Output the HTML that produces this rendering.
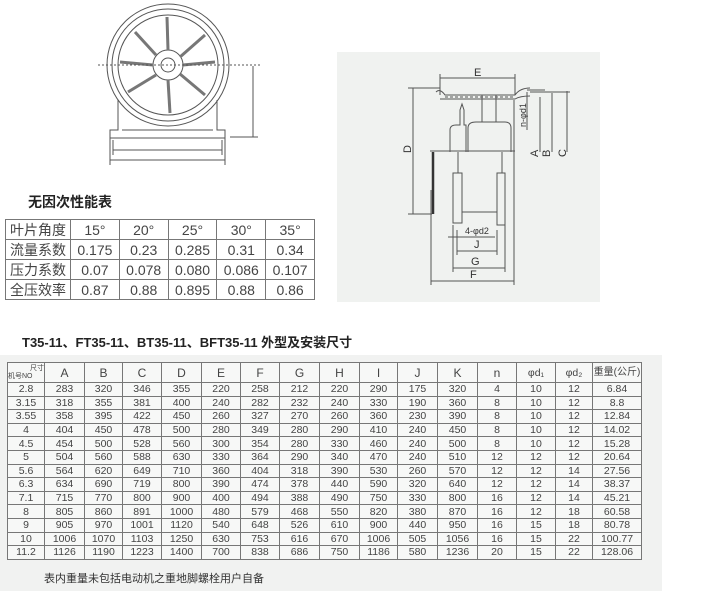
<!DOCTYPE html>
<html><head><meta charset="utf-8"><style>
body{margin:0;width:710px;height:591px;background:#fff;position:relative;overflow:hidden;font-family:"Liberation Sans","Noto Sans CJK SC",sans-serif;color:#333}
.abs{position:absolute}
table{border-collapse:collapse;position:absolute;table-layout:fixed}
td{border:1px solid #777;text-align:center;padding:0;color:#444;white-space:nowrap;overflow:hidden}
#t1 td{font-size:14px;height:19px;line-height:18px}
#t2 td{font-size:10.5px;height:12.6px;line-height:12px}
</style></head><body>
<div class="abs" style="left:0;top:355px;width:662px;height:236px;background:#f1f2f1"></div>
<div class="abs" style="left:337px;top:52px;width:263px;height:250px;background:#f0f2f0"></div>
<svg class="abs" style="left:0;top:0" width="710" height="320" fill="none" stroke="#555" stroke-width="1">
<circle cx="168" cy="65" r="61"/><circle cx="168" cy="65" r="56"/><circle cx="168" cy="65" r="50"/>
<circle cx="168" cy="65" r="15"/><circle cx="168" cy="65" r="7"/>
<g stroke-width="3" stroke="#777">
<line x1="168" y1="50" x2="167" y2="17"/>
<line x1="180" y1="57" x2="205" y2="35"/><line x1="183" y1="65" x2="215" y2="62"/>
<line x1="180" y1="74" x2="205" y2="95"/><line x1="168" y1="80" x2="170" y2="113"/>
<line x1="156" y1="75" x2="128" y2="92"/><line x1="153" y1="65" x2="120" y2="62"/>
<line x1="156" y1="55" x2="135" y2="32"/>
</g>
<path d="M118 100 L118 130 L110 130 L110 138 L225 138 L225 130 L217 130 L217 100"/>
<line x1="122" y1="130" x2="213" y2="130"/>
<line x1="110" y1="138" x2="110" y2="165"/><line x1="225" y1="138" x2="225" y2="165"/>
<line x1="113" y1="140" x2="113" y2="155"/><line x1="222" y1="140" x2="222" y2="155"/>
<line x1="113" y1="150" x2="222" y2="150"/><line x1="110" y1="160" x2="225" y2="160"/>
<line x1="253" y1="66" x2="253" y2="137"/><line x1="230" y1="137" x2="258" y2="137"/>
<line x1="98" y1="65" x2="260" y2="65" stroke-dasharray="2 2"/>
<line x1="440" y1="78" x2="515" y2="78"/><line x1="440" y1="74" x2="440" y2="95"/><line x1="515" y1="74" x2="515" y2="95"/>
<path d="M436 92 Q440 88 445 95 L515 95 Q520 88 530 88"/><path d="M440 99 L515 99 Q520 96 530 96"/>
<line x1="445" y1="97" x2="515" y2="97" stroke-dasharray="3 2"/>
<line x1="413" y1="88" x2="413" y2="214"/><line x1="408" y1="88" x2="440" y2="88"/><line x1="408" y1="214" x2="432" y2="214"/>
<line x1="433" y1="152" x2="433" y2="214" stroke-width="2.5" stroke="#333"/>
<path d="M450 152 L450 130 Q450 125 456 125 L460 125 L460 110 L462 104 L464 110 L464 125 L466 125 L466 152"/>
<path d="M468 152 L468 128 Q468 122 476 122 L505 122 Q511 122 511 128 L511 152"/>
<line x1="482" y1="95" x2="482" y2="122"/><line x1="496" y1="95" x2="496" y2="122"/>
<line x1="430" y1="151" x2="515" y2="151"/>
<line x1="458" y1="152" x2="458" y2="173"/><line x1="502" y1="152" x2="502" y2="173"/>
<rect x="453" y="173" width="9" height="50"/><rect x="497" y="173" width="8" height="52"/>
<line x1="462" y1="212" x2="497" y2="212"/>
<line x1="431" y1="190" x2="431" y2="285"/><line x1="514" y1="100" x2="514" y2="285"/>
<line x1="431" y1="281" x2="514" y2="281"/><line x1="453" y1="268" x2="505" y2="268"/><line x1="453" y1="225" x2="453" y2="272"/><line x1="505" y1="225" x2="505" y2="272"/>
<line x1="457" y1="251" x2="497" y2="251"/><line x1="457" y1="230" x2="457" y2="255"/><line x1="497" y1="230" x2="497" y2="255"/>
<line x1="448" y1="237" x2="495" y2="237"/>
<line x1="527" y1="90" x2="545" y2="90"/><line x1="527" y1="92" x2="527" y2="130"/>
<line x1="540" y1="97" x2="540" y2="152"/><line x1="552" y1="93" x2="552" y2="152"/><line x1="567" y1="91" x2="567" y2="152"/>
<line x1="530" y1="92" x2="570" y2="92"/>
<g fill="#333" stroke="none" font-family="Liberation Sans" font-size="11">
<text x="474" y="76">E</text><text x="471" y="265">G</text><text x="474" y="248">J</text><text x="470" y="278">F</text>
<text x="465" y="234" font-size="9">4-φd2</text>
<text transform="translate(411,153) rotate(-90)">D</text>
<text transform="translate(538,157) rotate(-90)">A</text><text transform="translate(550,157) rotate(-90)">B</text><text transform="translate(566,157) rotate(-90)">C</text>
<text transform="translate(526,127) rotate(-90)" font-size="9">n-φd1</text>
</g></svg>
<div class="abs" style="left:28px;top:192px;font-size:14px;font-weight:bold;color:#222">无因次性能表</div>
<table id="t1" style="left:5px;top:219px;width:310px">
<tr><td style="width:64px">叶片角度</td><td>15°</td><td>20°</td><td>25°</td><td>30°</td><td>35°</td></tr>
<tr><td>流量系数</td><td>0.175</td><td>0.23</td><td>0.285</td><td>0.31</td><td>0.34</td></tr>
<tr><td>压力系数</td><td>0.07</td><td>0.078</td><td>0.080</td><td>0.086</td><td>0.107</td></tr>
<tr><td>全压效率</td><td>0.87</td><td>0.88</td><td>0.895</td><td>0.88</td><td>0.86</td></tr>
</table>
<div class="abs" style="left:22px;top:332px;font-size:13px;font-weight:bold;color:#222">T35-11、FT35-11、BT35-11、BFT35-11 外型及安装尺寸</div>
<table id="t2" style="left:7px;top:362px;width:635px;background:#f7f8f7">
<tr style="height:20px"><td style="width:36px;font-size:7px;text-align:right;line-height:8px">尺寸<br><span style="float:left">机号NO</span></td><td style="width:39px;font-size:12px">A</td><td style="width:37px;font-size:12px">B</td><td style="width:38px;font-size:12px">C</td><td style="width:39px;font-size:12px">D</td><td style="width:38px;font-size:12px">E</td><td style="width:38px;font-size:12px">F</td><td style="width:39px;font-size:12px">G</td><td style="width:39px;font-size:12px">H</td><td style="width:37px;font-size:12px">I</td><td style="width:39px;font-size:12px">J</td><td style="width:39px;font-size:12px">K</td><td style="width:38px;font-size:12px">n</td><td style="width:38px">φd₁</td><td style="width:36px">φd₂</td><td style="font-size:10px">重量(公斤)</td></tr>
<tr><td>2.8</td><td>283</td><td>320</td><td>346</td><td>355</td><td>220</td><td>258</td><td>212</td><td>220</td><td>290</td><td>175</td><td>320</td><td>4</td><td>10</td><td>12</td><td>6.84</td></tr>
<tr><td>3.15</td><td>318</td><td>355</td><td>381</td><td>400</td><td>240</td><td>282</td><td>232</td><td>240</td><td>330</td><td>190</td><td>360</td><td>8</td><td>10</td><td>12</td><td>8.8</td></tr>
<tr><td>3.55</td><td>358</td><td>395</td><td>422</td><td>450</td><td>260</td><td>327</td><td>270</td><td>260</td><td>360</td><td>230</td><td>390</td><td>8</td><td>10</td><td>12</td><td>12.84</td></tr>
<tr><td>4</td><td>404</td><td>450</td><td>478</td><td>500</td><td>280</td><td>349</td><td>280</td><td>290</td><td>410</td><td>240</td><td>450</td><td>8</td><td>10</td><td>12</td><td>14.02</td></tr>
<tr><td>4.5</td><td>454</td><td>500</td><td>528</td><td>560</td><td>300</td><td>354</td><td>280</td><td>330</td><td>460</td><td>240</td><td>500</td><td>8</td><td>10</td><td>12</td><td>15.28</td></tr>
<tr><td>5</td><td>504</td><td>560</td><td>588</td><td>630</td><td>330</td><td>364</td><td>290</td><td>340</td><td>470</td><td>240</td><td>510</td><td>12</td><td>12</td><td>12</td><td>20.64</td></tr>
<tr><td>5.6</td><td>564</td><td>620</td><td>649</td><td>710</td><td>360</td><td>404</td><td>318</td><td>390</td><td>530</td><td>260</td><td>570</td><td>12</td><td>12</td><td>14</td><td>27.56</td></tr>
<tr><td>6.3</td><td>634</td><td>690</td><td>719</td><td>800</td><td>390</td><td>474</td><td>378</td><td>440</td><td>590</td><td>320</td><td>640</td><td>12</td><td>12</td><td>14</td><td>38.37</td></tr>
<tr><td>7.1</td><td>715</td><td>770</td><td>800</td><td>900</td><td>400</td><td>494</td><td>388</td><td>490</td><td>750</td><td>330</td><td>800</td><td>16</td><td>12</td><td>14</td><td>45.21</td></tr>
<tr><td>8</td><td>805</td><td>860</td><td>891</td><td>1000</td><td>480</td><td>579</td><td>468</td><td>550</td><td>820</td><td>380</td><td>870</td><td>16</td><td>12</td><td>18</td><td>60.58</td></tr>
<tr><td>9</td><td>905</td><td>970</td><td>1001</td><td>1120</td><td>540</td><td>648</td><td>526</td><td>610</td><td>900</td><td>440</td><td>950</td><td>16</td><td>15</td><td>18</td><td>80.78</td></tr>
<tr><td>10</td><td>1006</td><td>1070</td><td>1103</td><td>1250</td><td>630</td><td>753</td><td>616</td><td>670</td><td>1006</td><td>505</td><td>1056</td><td>16</td><td>15</td><td>22</td><td>100.77</td></tr>
<tr><td>11.2</td><td>1126</td><td>1190</td><td>1223</td><td>1400</td><td>700</td><td>838</td><td>686</td><td>750</td><td>1186</td><td>580</td><td>1236</td><td>20</td><td>15</td><td>22</td><td>128.06</td></tr>
</table>
<div class="abs" style="left:44px;top:570px;font-size:11px;color:#333">表内重量未包括电动机之重地脚螺栓用户自备</div>
</body></html>
